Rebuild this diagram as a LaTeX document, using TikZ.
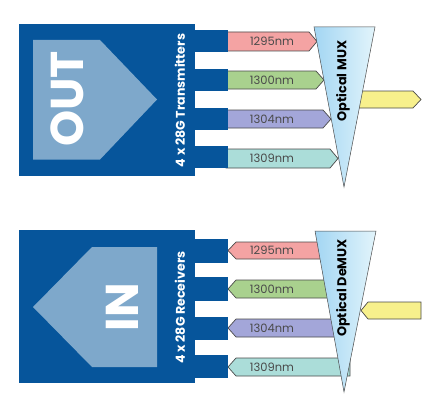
\documentclass[tikz,border=0pt]{standalone}
\usepackage{fontspec}
\setmainfont{Poppins}
\usetikzlibrary{calc}
\definecolor{boardblue}{HTML}{06559B}
\definecolor{boardpale}{HTML}{7EA8CB}
\definecolor{edgegrey}{HTML}{4A4A4A}
\definecolor{waveA}{HTML}{F4A3A3}
\definecolor{waveB}{HTML}{A9D18E}
\definecolor{waveC}{HTML}{A3A6D9}
\definecolor{waveD}{HTML}{ABDDD9}
\definecolor{fibreyellow}{HTML}{F7F08C}
\definecolor{muxleft}{HTML}{A3D6F3}
\definecolor{muxmid}{HTML}{3DB5EC}
\definecolor{muxright}{HTML}{E2F4FB}
\tikzset{
    lane/.style={draw=edgegrey, line width=0.7pt},
    lanetext/.style={anchor=center, font=\fontsize{11.5}{11.5}\selectfont, text=edgegrey},
    boardtext/.style={anchor=center, rotate=90, text=white, font=\bfseries\fontsize{12.6}{12.6}\selectfont},
    bigtext/.style={anchor=center, rotate=90, text=white, font=\bfseries\fontsize{46}{46}\selectfont},
    muxtext/.style={anchor=center, rotate=90, text=black, font=\bfseries\fontsize{12.8}{12.8}\selectfont},
    muxshade/.style={left color=muxleft, middle color=muxmid, right color=muxright}
}

\begin{document}
\begin{tikzpicture}[x=1pt, y=-1pt]
    \useasboundingbox (0, 0) rectangle (441, 412);

    % transmitter lanes
    \draw[lane, fill=waveA] (226, 32) -- (309, 32) -- (317, 41.5) -- (309, 51) -- (226, 51) -- cycle;
    \draw[lane, fill=waveB] (226, 71) -- (316, 71) -- (324, 80) -- (316, 89) -- (226, 89) -- cycle;
    \draw[lane, fill=waveC] (226, 110) -- (323, 110) -- (331, 119) -- (323, 128) -- (226, 128) -- cycle;
    \draw[lane, fill=waveD] (226, 149) -- (330, 149) -- (338, 158.5) -- (330, 168) -- (226, 168) -- cycle;
    \draw[lane, fill=fibreyellow] (355, 91) -- (413, 91) -- (421, 99.5) -- (413, 108) -- (355, 108) -- cycle;

    % receiver lanes
    \draw[lane, fill=waveA] (329, 242) -- (236, 242) -- (228, 250.5) -- (236, 259) -- (329, 259) -- cycle;
    \draw[lane, fill=waveB] (336, 280) -- (236, 280) -- (228, 289) -- (236, 298) -- (336, 298) -- cycle;
    \draw[lane, fill=waveC] (343, 319) -- (236, 319) -- (228, 328) -- (236, 337) -- (343, 337) -- cycle;
    \draw[lane, fill=waveD] (350, 358) -- (236, 358) -- (228, 367) -- (236, 376) -- (350, 376) -- cycle;
    \draw[lane, fill=fibreyellow] (421, 302) -- (368, 302) -- (361, 310.5) -- (368, 319) -- (421, 319) -- cycle;

    % transmitter board
    \fill[boardblue] (19, 24) rectangle (195, 176);
    \fill[boardblue] (195, 30) rectangle (228, 52);
    \fill[boardblue] (195, 69) rectangle (228, 91);
    \fill[boardblue] (195, 108) rectangle (228, 130);
    \fill[boardblue] (195, 146) rectangle (228, 168);
    \fill[boardpale] (33, 40) -- (100, 40) -- (157, 99.5) -- (100, 159.5) -- (33, 159.5) -- cycle;

    % receiver board
    \fill[boardblue] (19, 230) rectangle (195, 383);
    \fill[boardblue] (195, 239) rectangle (228, 263);
    \fill[boardblue] (195, 277) rectangle (228, 301);
    \fill[boardblue] (195, 317) rectangle (228, 340);
    \fill[boardblue] (195, 355) rectangle (228, 378);
    \fill[boardpale] (157, 247) -- (92, 247) -- (33, 307) -- (92, 367) -- (157, 367) -- cycle;

    % mux and demux
    \shade[muxshade] (314, 27) -- (375, 27) -- (344, 187) -- cycle;
    \draw[lane, line width=0.5pt] (314, 27) -- (375, 27) -- (344, 187) -- cycle;
    \shade[muxshade] (315, 231) -- (376, 231) -- (344, 392) -- cycle;
    \draw[lane, line width=0.5pt] (315, 231) -- (376, 231) -- (344, 392) -- cycle;

    \node [bigtext] (outtag) at (67, 99) { OUT };
    \node [bigtext] (intag) at (122, 307) { IN };
    \node [boardtext] (txtag) at (180, 100.5) { 4 x 28G Transmitters };
    \node [boardtext] (rxtag) at (180, 307.5) { 4 x 28G Receivers };
    \node [muxtext] (muxtag) at (343, 81) { Optical MUX };
    \node [muxtext] (demuxtag) at (343, 288) { Optical DeMUX };

    \node [lanetext] (tx1295) at (272, 41.5) { 1295nm };
    \node [lanetext] (tx1300) at (272, 80) { 1300nm };
    \node [lanetext] (tx1304) at (272, 119) { 1304nm };
    \node [lanetext] (tx1309) at (272, 158.5) { 1309nm };
    \node [lanetext] (rx1295) at (272, 250.5) { 1295nm };
    \node [lanetext] (rx1300) at (272, 289) { 1300nm };
    \node [lanetext] (rx1304) at (272, 328) { 1304nm };
    \node [lanetext] (rx1309) at (272, 367) { 1309nm };

\end{tikzpicture}
\end{document}
